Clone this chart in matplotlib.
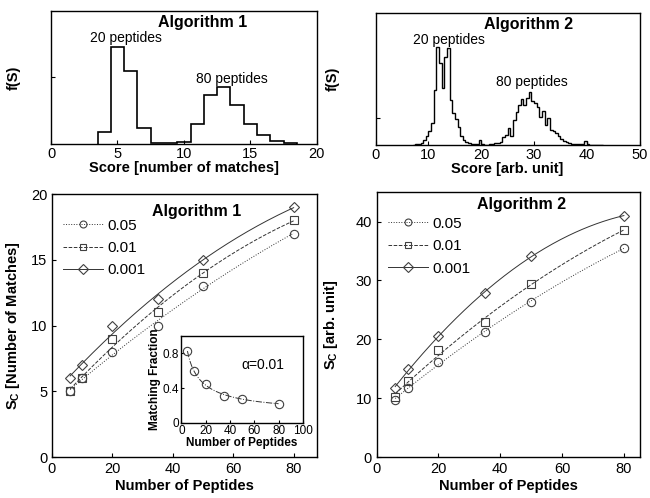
import numpy as np
import matplotlib
matplotlib.use("Agg")
import matplotlib.pyplot as plt

plt.rcParams['font.family'] = ['Liberation Sans', 'DejaVu Sans']
plt.rcParams['mathtext.fontset'] = 'custom'
plt.rcParams['mathtext.bf'] = 'Liberation Sans:bold'
plt.rcParams['mathtext.rm'] = 'Liberation Sans'

# histogram, algorithm 1 (bins of 1 match, centres 4..18)
h1_edges = np.arange(3.5, 19.0, 1.0)
h1_counts = [37, 292, 220, 47, 4, 2, 7, 60, 148, 172, 116, 60, 26, 8, 4]

# histogram, algorithm 2 (bins of 0.5 unit, from 7 to 43)
h2_edges = np.arange(7.0, 43.25, 0.5)
h2_counts = [0.3, 0.5, 1, 2, 5, 9, 14, 22, 55, 98,
             82, 57, 88, 97, 45, 32, 26, 18, 9, 5,
             3, 2, 1, 0.5, 0.5, 5, 0.5, 0.3, 0.3, 0.5,
             1, 1.5, 2, 3, 8, 10, 17, 9, 25, 33,
             40, 46, 40, 47, 53, 44, 42, 38, 28, 34,
             20, 27, 15, 14, 12, 9, 6, 4, 3, 2,
             1, 1, 0.5, 0.5, 0.5, 4, 0.5, 0.3, 0.3, 0.3,
             0.3, 0.3]

# critical score vs number of peptides
peptides = [6, 10, 20, 35, 50, 80]
alphas = ['0.05', '0.01', '0.001']
alg1 = {'0.05': [5, 6, 8, 10, 13, 17],
        '0.01': [5, 6, 9, 11, 14, 18],
        '0.001': [6, 7, 10, 12, 15, 19]}
alg2 = {'0.05': [9.6, 11.8, 16.1, 21.2, 26.4, 35.5],
        '0.01': [10.2, 12.9, 18.1, 22.9, 29.4, 38.6],
        '0.001': [11.7, 14.9, 20.5, 27.9, 34.1, 41.0]}

# inset: matching fraction, alpha = 0.01
inset_x = [5, 10, 20, 35, 50, 80]
inset_y = [0.83, 0.60, 0.45, 0.31, 0.28, 0.22]

styles = {'0.05': (':', 'o'), '0.01': ('--', 's'), '0.001': ('-', 'D')}

fig = plt.figure(figsize=(6.5, 4.98), dpi=100)

ax1 = fig.add_axes([0.0785, 0.711, 0.409, 0.267])
ax2 = fig.add_axes([0.578, 0.709, 0.406, 0.265])
ax3 = fig.add_axes([0.080, 0.0823, 0.408, 0.528])
ax4 = fig.add_axes([0.5795, 0.0823, 0.405, 0.532])
axin = fig.add_axes([0.279, 0.151, 0.187, 0.174])

for ax in (ax1, ax2, ax3, ax4, axin):
    for sp in ax.spines.values():
        sp.set_linewidth(1.0)
    ax.tick_params(direction='in', labelsize=10.5, length=3, width=0.8)

# top left histogram
ax1.stairs(h1_counts, h1_edges, color='black', lw=1.2)
ax1.set_xlim(0, 20)
ax1.set_ylim(0, 400)
ax1.set_xticks([0, 5, 10, 15, 20])
ax1.set_yticks([200])
ax1.set_yticklabels([])
ax1.tick_params(axis='x', pad=2)
ax1.set_xlabel('Score [number of matches]', fontweight='bold', fontsize=10.5, labelpad=0)
ax1.set_ylabel('f(S)', fontweight='bold', fontsize=10.5)
ax1.yaxis.set_label_coords(-0.113, 0.5)
ax1.text(11.4, 0.91, 'Algorithm 1', transform=ax1.get_xaxis_transform(),
         ha='center', va='center', fontweight='bold', fontsize=11.5)
ax1.text(5.6, 0.80, '20 peptides', transform=ax1.get_xaxis_transform(),
         ha='center', va='center', fontsize=10)
ax1.text(13.6, 0.49, '80 peptides', transform=ax1.get_xaxis_transform(),
         ha='center', va='center', fontsize=10)

# top right histogram
ax2.stairs(h2_counts, h2_edges, color='black', lw=1.0)
ax2.set_xlim(0, 50)
ax2.set_ylim(0, 132)
ax2.set_xticks([0, 10, 20, 30, 40, 50])
ax2.set_yticks([26.5])
ax2.set_yticklabels([])
ax2.tick_params(axis='x', pad=2)
ax2.set_xlabel('Score [arb. unit]', fontweight='bold', fontsize=10.5, labelpad=0)
ax2.set_ylabel('f(S)', fontweight='bold', fontsize=10.5)
ax2.yaxis.set_label_coords(-0.136, 0.5)
ax2.text(29, 0.91, 'Algorithm 2', transform=ax2.get_xaxis_transform(),
         ha='center', va='center', fontweight='bold', fontsize=11.5)
ax2.text(13.8, 0.795, '20 peptides', transform=ax2.get_xaxis_transform(),
         ha='center', va='center', fontsize=10)
ax2.text(29.6, 0.48, '80 peptides', transform=ax2.get_xaxis_transform(),
         ha='center', va='center', fontsize=10)


def draw_sc(ax, data):
    xs = np.linspace(peptides[0], peptides[-1], 200)
    for a in alphas:
        ls, mk = styles[a]
        coef = np.polyfit(peptides, data[a], 2)
        ax.plot(xs, np.polyval(coef, xs), ls=ls, color='0.2', lw=0.7)
        ax.plot(peptides, data[a], ls='none', marker=mk, mfc='none', mec='0.25',
                ms=6 if mk != 'D' else 5, mew=0.8)
        ax.plot([], [], ls=ls, marker=mk, color='0.2', lw=0.7, mfc='none',
                mec='0.25', ms=5, mew=0.8, label=a)
    leg = ax.legend(loc='upper left', bbox_to_anchor=(0.02, 0.93), frameon=False,
                    fontsize=11, handlelength=2.6, labelspacing=0.55,
                    handletextpad=0.3, borderaxespad=0)
    return leg


draw_sc(ax3, alg1)
ax3.set_xlim(0, 87.8)
ax3.set_ylim(0, 20)
ax3.set_xticks([0, 20, 40, 60, 80])
ax3.set_yticks([0, 5, 10, 15, 20])
ax3.set_xlabel('Number of Peptides', fontweight='bold', fontsize=10.5, labelpad=2)
ax3.set_ylabel(r'S$_\mathbf{C}$ [Number of Matches]', fontweight='bold', fontsize=10.5)
ax3.yaxis.set_label_coords(-0.113, 0.5)
ax3.text(48, 18.7, 'Algorithm 1', ha='center', va='center',
         fontweight='bold', fontsize=11.5)

draw_sc(ax4, alg2)
ax4.set_xlim(0, 85.2)
ax4.set_ylim(0, 45)
ax4.set_xticks([0, 20, 40, 60, 80])
ax4.set_yticks([0, 10, 20, 30, 40])
ax4.set_xlabel('Number of Peptides', fontweight='bold', fontsize=10.5, labelpad=2)
ax4.set_ylabel(r'S$_\mathbf{C}$ [arb. unit]', fontweight='bold', fontsize=10.5)
ax4.yaxis.set_label_coords(-0.14, 0.5)
ax4.text(0.55, 0.955, 'Algorithm 2', transform=ax4.transAxes, ha='center',
         va='center', fontweight='bold', fontsize=11.5)

# inset
lx = np.linspace(inset_x[0], inset_x[-1], 200)
coef = np.polyfit(np.log(inset_x), inset_y, 2)
axin.plot(lx, np.polyval(coef, np.log(lx)), ls='-.', color='0.2', lw=0.7)
axin.plot(inset_x, inset_y, ls='none', marker='o', mfc='none', mec='0.25', ms=6, mew=0.8)
axin.set_xlim(0, 100)
axin.set_ylim(0, 1.0)
axin.set_xticks([0, 20, 40, 60, 80, 100])
axin.set_yticks([0, 0.4, 0.8])
axin.set_yticklabels(['0', '0.4', '0.8'])
axin.tick_params(labelsize=8.5, pad=1.5, length=2.5)
axin.set_xlabel('Number of Peptides', fontweight='bold', fontsize=8.5, labelpad=0)
axin.set_ylabel('Matching Fraction', fontweight='bold', fontsize=8.5, labelpad=1)
axin.text(67, 0.67, 'α=0.01', ha='center', va='center', fontsize=10)

fig.savefig('out.png', dpi=100)
